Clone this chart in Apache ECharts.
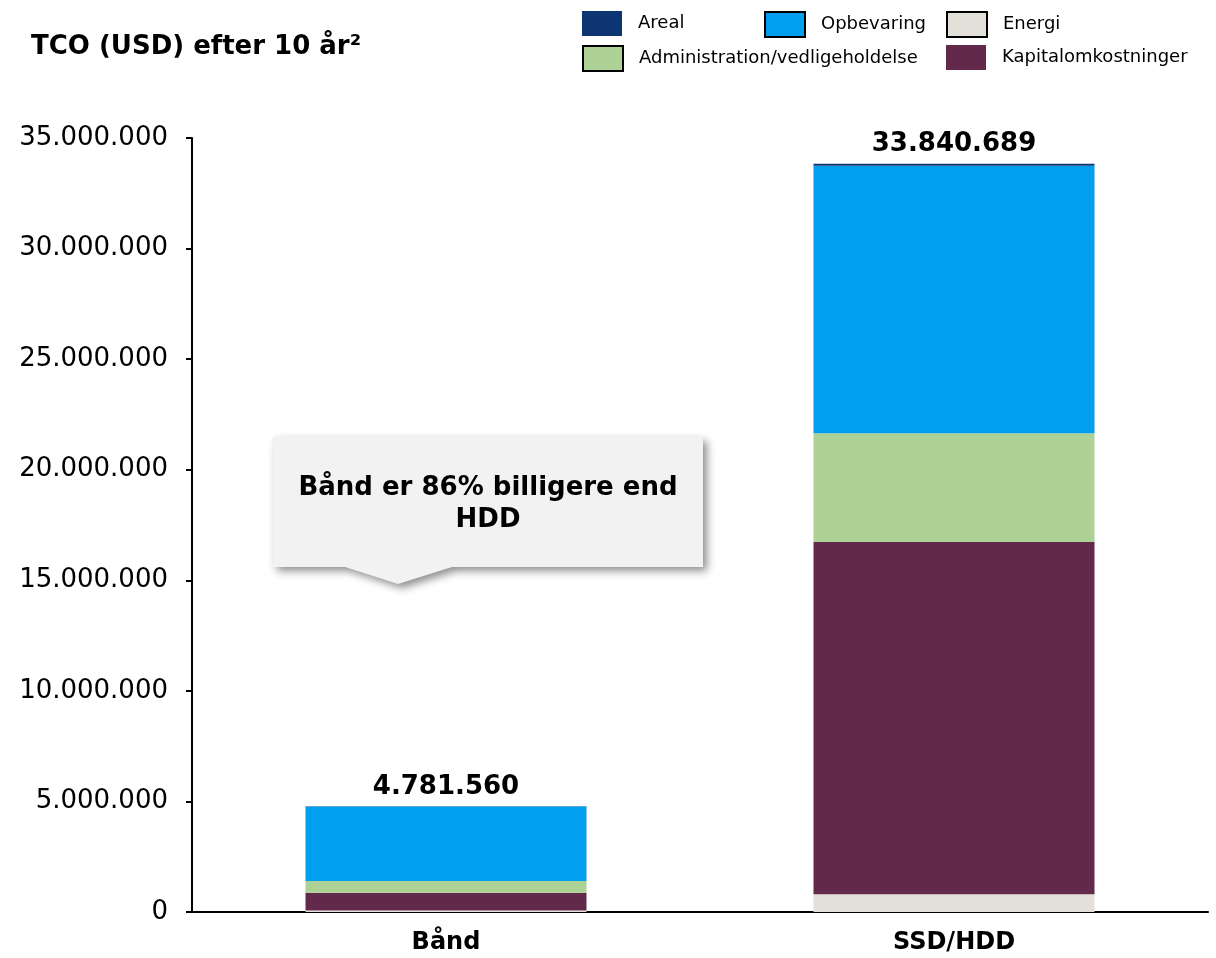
<!DOCTYPE html>
<html>
<head>
<meta charset="utf-8">
<script src="https://cdn.jsdelivr.net/npm/echarts@6/dist/echarts.min.js"></script>
<style>
html,body{margin:0;padding:0;background:#fff;}
#chart{width:1216px;height:958px;}
</style>
</head>
<body>
<div id="chart"></div>
<script>
const categories = ['Bånd', 'SSD/HDD'];
const energi = [70000, 800000];
const kapital = [800000, 15930000];
const admin = [530000, 4920000];
const opbevaring = [3366560, 12090689];
const areal = [15000, 100000];
const totals = [4781560, 33840689];
const yTicks = { min: 0, max: 35000000, interval: 5000000 };

const FONT = 'DejaVu Sans';
const fmt = v => String(v).replace(/\B(?=(\d{3})+(?!\d))/g, '.');

const colors = {
  Areal: '#0c3571',
  Opbevaring: '#019fee',
  Energi: '#e3e0d9',
  Admin: '#aed296',
  Kapital: '#63294b'
};

function legendAt(name, left, top, border) {
  return {
    left: left, top: top, padding: 0, orient: 'horizontal',
    itemWidth: 40, itemHeight: 25, icon: 'rect', selectedMode: false,
    textStyle: { fontFamily: FONT, fontSize: 18, color: '#000', padding: [0, 0, 0, 11] },
    data: [{ name: name, itemStyle: border ? { borderColor: '#000', borderWidth: 2 } : { borderWidth: 0 } }]
  };
}

const chart = echarts.init(document.getElementById('chart'), null, { renderer: 'canvas' });

chart.setOption({
  animation: false,
  backgroundColor: '#fff',
  title: {
    text: 'TCO (USD) efter 10 år²',
    left: 31, top: 34, padding: 0,
    textStyle: { fontFamily: FONT, fontSize: 26, fontWeight: 'bold', color: '#000' }
  },
  legend: [
    legendAt('Areal', 582, 11, false),
    legendAt('Opbevaring', 764, 11, true),
    legendAt('Energi', 946, 11, true),
    legendAt('Administration/vedligeholdelse', 582, 45, true),
    legendAt('Kapitalomkostninger', 946, 45, false)
  ],
  grid: { left: 192, right: 8, top: 138, bottom: 46, containLabel: false },
  xAxis: {
    type: 'category',
    data: categories,
    axisLine: { show: true, lineStyle: { color: '#000', width: 2 } },
    axisTick: { show: false },
    axisLabel: { fontFamily: FONT, fontSize: 24, fontWeight: 'bold', color: '#000', margin: 19 }
  },
  yAxis: {
    type: 'value',
    min: yTicks.min, max: yTicks.max, interval: yTicks.interval,
    splitLine: { show: false },
    axisLine: { show: true, lineStyle: { color: '#000', width: 2 } },
    axisTick: { show: true, inside: false, length: 6, lineStyle: { color: '#000', width: 2 } },
    axisLabel: { fontFamily: FONT, fontSize: 26, color: '#000', margin: 24, formatter: v => fmt(v) }
  },
  series: [
    { name: 'Energi', type: 'bar', stack: 'tco', barWidth: 281, data: energi,
      itemStyle: { color: colors.Energi } },
    { name: 'Kapitalomkostninger', type: 'bar', stack: 'tco', barWidth: 281, data: kapital,
      itemStyle: { color: colors.Kapital } },
    { name: 'Administration/vedligeholdelse', type: 'bar', stack: 'tco', barWidth: 281, data: admin,
      itemStyle: { color: colors.Admin } },
    { name: 'Opbevaring', type: 'bar', stack: 'tco', barWidth: 281, data: opbevaring,
      itemStyle: { color: colors.Opbevaring } },
    { name: 'Areal', type: 'bar', stack: 'tco', barWidth: 281, data: areal,
      itemStyle: { color: colors.Areal },
      label: {
        show: true, position: 'top', distance: 6,
        fontFamily: FONT, fontSize: 26, fontWeight: 'bold', color: '#000',
        formatter: p => fmt(totals[p.dataIndex])
      } }
  ],
  graphic: [
    {
      type: 'polygon', z: 10,
      shape: { points: [[273, 437], [703, 437], [703, 567], [452, 567], [398, 584], [345, 567], [273, 567]] },
      style: { fill: '#f2f2f2', shadowBlur: 8, shadowColor: 'rgba(0,0,0,0.45)', shadowOffsetX: 4, shadowOffsetY: 4 }
    },
    {
      type: 'text', z: 11, x: 488, y: 472,
      style: {
        text: 'Bånd er 86% billigere end\nHDD',
        align: 'center', verticalAlign: 'top',
        fontFamily: FONT, fontSize: 26, fontWeight: 'bold', fill: '#000', lineHeight: 32
      }
    }
  ]
});
</script>
</body>
</html>
